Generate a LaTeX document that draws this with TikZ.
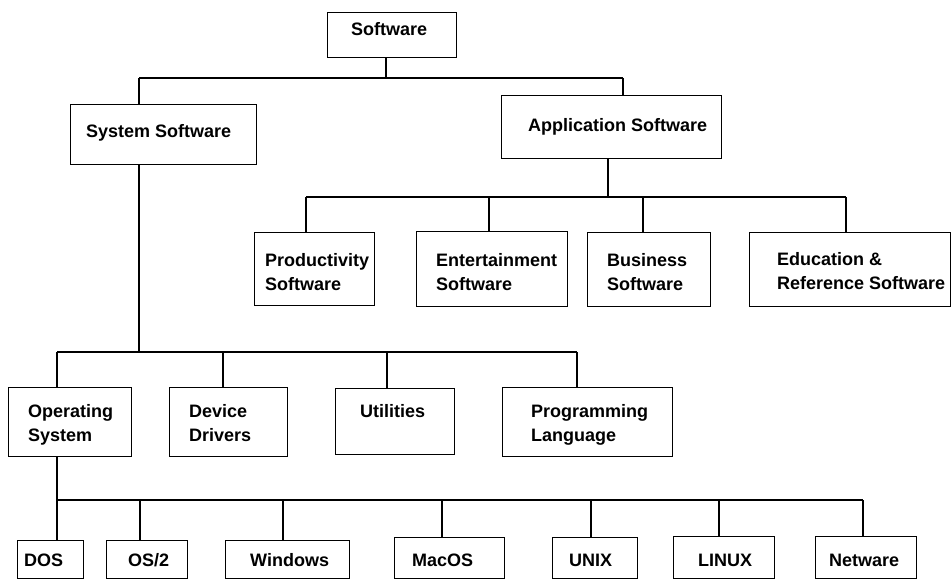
\documentclass[tikz,border=0pt]{standalone}
\usepackage{fontspec}
\setmainfont{Liberation Sans}
\newcommand\txtlines[1]{\begin{tabular}[t]{@{}l@{}}#1\end{tabular}}
\begin{document}
\begin{tikzpicture}[x=1pt,y=-1pt,
  bx/.style={draw, line width=1.4pt, rectangle, inner sep=0pt, anchor=north west},
  lbl/.style={anchor=base west, inner sep=0pt, font=\bfseries\fontsize{18}{24}\selectfont},
  wire/.style={line width=1.4pt}]
\useasboundingbox[fill=white] (0,0) rectangle (952,580);

% level 0 and 1
\node[bx, minimum width=129, minimum height=45] (sw)  at (327,12) {};
\node[bx, minimum width=186, minimum height=60] (sys) at (70,104) {};
\node[bx, minimum width=220, minimum height=63] (app) at (501,95) {};

% application software branches
\node[bx, minimum width=120, minimum height=73] (prod) at (254,232) {};
\node[bx, minimum width=151, minimum height=75] (ent)  at (416,231) {};
\node[bx, minimum width=123, minimum height=74] (bus)  at (587,232) {};
\node[bx, minimum width=201, minimum height=74] (edu)  at (749,232) {};

% system software branches
\node[bx, minimum width=123, minimum height=69] (os)   at (8,387) {};
\node[bx, minimum width=118, minimum height=69] (dev)  at (169,387) {};
\node[bx, minimum width=119, minimum height=66] (util) at (335,388) {};
\node[bx, minimum width=170, minimum height=69] (prog) at (502,387) {};

% operating systems
\node[bx, minimum width=66,  minimum height=38] (dos)  at (17,540) {};
\node[bx, minimum width=81,  minimum height=38] (os2)  at (106,540) {};
\node[bx, minimum width=124, minimum height=38] (win)  at (225,540) {};
\node[bx, minimum width=110, minimum height=41] (mac)  at (394,537) {};
\node[bx, minimum width=85,  minimum height=41] (unix) at (552,537) {};
\node[bx, minimum width=101, minimum height=42] (linux) at (673,536) {};
\node[bx, minimum width=101, minimum height=42] (netw) at (815,536) {};

% labels
\node[lbl] (tsw)   at (351,36)  {\txtlines{Software}};
\node[lbl] (tsys)  at (86,138)  {\txtlines{System Software}};
\node[lbl] (tapp)  at (528,132) {\txtlines{Application Software}};
\node[lbl] (tprod) at (265,266) {\txtlines{Productivity\\Software}};
\node[lbl] (tent)  at (436,266) {\txtlines{Entertainment\\Software}};
\node[lbl] (tbus)  at (607,266) {\txtlines{Business\\Software}};
\node[lbl] (tedu)  at (777,265) {\txtlines{Education \&\\Reference Software}};
\node[lbl] (tos)   at (28,417)  {\txtlines{Operating\\System}};
\node[lbl] (tdev)  at (189,417) {\txtlines{Device\\Drivers}};
\node[lbl] (tutil) at (360,417) {\txtlines{Utilities}};
\node[lbl] (tprog) at (531,417) {\txtlines{Programming\\Language}};
\node[lbl] (tdos)  at (24,566)  {\txtlines{DOS}};
\node[lbl] (tos2)  at (128,566) {\txtlines{OS/2}};
\node[lbl] (twin)  at (250,566) {\txtlines{Windows}};
\node[lbl] (tmac)  at (412,566) {\txtlines{MacOS}};
\node[lbl] (tunix) at (569,566) {\txtlines{UNIX}};
\node[lbl] (tlin)  at (698,566) {\txtlines{LINUX}};
\node[lbl] (tnet)  at (829,566) {\txtlines{Netware}};

% junctions on the connector buses
\coordinate (j0)    at (386,78);
\coordinate (jsys)  at (139,78);
\coordinate (japp)  at (623,78);

\coordinate (j1)    at (608,197);
\coordinate (jprod) at (306,197);
\coordinate (jent)  at (489,197);
\coordinate (jbus)  at (643,197);
\coordinate (jedu)  at (846,197);

\coordinate (j2)    at (139,352);
\coordinate (jos)   at (57,352);
\coordinate (jdev)  at (223,352);
\coordinate (jutil) at (387,352);
\coordinate (jprog) at (577,352);

\coordinate (j3)    at (57,500);
\coordinate (jdos)  at (57,500);
\coordinate (jos2)  at (140,500);
\coordinate (jwin)  at (283,500);
\coordinate (jmac)  at (442,500);
\coordinate (junix) at (591,500);
\coordinate (jlin)  at (719,500);
\coordinate (jnet)  at (863,500);

% Software -> System / Application
\draw[wire] (sw.south -| j0) -- (j0);
\draw[wire] (jsys) -- (japp);
\draw[wire] (jsys) -- (sys.north -| jsys);
\draw[wire] (japp) -- (app.north -| japp);

% Application -> its four kinds
\draw[wire] (app.south -| j1) -- (j1);
\draw[wire] (jprod) -- (jedu);
\draw[wire] (jprod) -- (prod.north -| jprod);
\draw[wire] (jent)  -- (ent.north -| jent);
\draw[wire] (jbus)  -- (bus.north -| jbus);
\draw[wire] (jedu)  -- (edu.north -| jedu);

% System -> its four kinds
\draw[wire] (sys.south -| j2) -- (j2);
\draw[wire] (jos) -- (jprog);
\draw[wire] (jos)   -- (os.north -| jos);
\draw[wire] (jdev)  -- (dev.north -| jdev);
\draw[wire] (jutil) -- (util.north -| jutil);
\draw[wire] (jprog) -- (prog.north -| jprog);

% Operating System -> concrete systems
\draw[wire] (os.south -| j3) -- (j3);
\draw[wire] (jdos) -- (jnet);
\draw[wire] (jdos)  -- (dos.north -| jdos);
\draw[wire] (jos2)  -- (os2.north -| jos2);
\draw[wire] (jwin)  -- (win.north -| jwin);
\draw[wire] (jmac)  -- (mac.north -| jmac);
\draw[wire] (junix) -- (unix.north -| junix);
\draw[wire] (jlin)  -- (linux.north -| jlin);
\draw[wire] (jnet)  -- (netw.north -| jnet);
\end{tikzpicture}
\end{document}
